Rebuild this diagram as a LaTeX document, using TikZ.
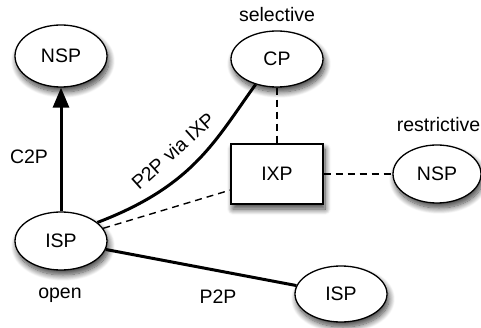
\documentclass[tikz,border=0pt]{standalone}
\usepackage{fontspec}
\setmainfont{Liberation Sans}
\usetikzlibrary{arrows.meta,shapes.geometric,shadows.blur}
\begin{document}
\begin{tikzpicture}[x=1pt,y=-1pt,
  font=\fontsize{19.5}{23}\selectfont,
  shade/.style={blur shadow={shadow xshift=2pt,shadow yshift=-5pt,shadow blur radius=6pt,shadow blur steps=12,shadow opacity=75}},
  as/.style={ellipse,draw,line width=1.3pt,fill=white,inner sep=0pt,minimum width=92pt,minimum height=58pt,shade},
  exch/.style={rectangle,draw,line width=1.3pt,fill=white,inner sep=0pt,minimum width=92pt,minimum height=60pt,shade},
  tag/.style={inner sep=0pt},
  link/.style={line width=3pt},
  soft/.style={line width=1.4pt,dash pattern=on 7pt off 5pt}]
\useasboundingbox (0,0) rectangle (481,328);

% autonomous systems and the exchange point
\node[as,minimum height=62pt] (nsp1) at (61,56) {NSP};
\node[as,minimum height=56pt] (cp) at (277,59) {CP};
\node[exch] (ixp) at (277,174) {IXP};
\node[as,minimum width=88pt] (nsp2) at (437,174) {NSP};
\node[as] (isp1) at (61,241) {ISP};
\node[as,minimum height=56pt] (isp2) at (341,294) {ISP};

% peering policies
\node[tag] (tsel) at (277,15) {selective};
\node[tag] (tres) at (438.5,125) {restrictive};
\node[tag] (topen) at (60,295) {open};

% relationships
\draw[soft] (cp) -- (ixp);
\draw[soft] (ixp) -- (nsp2);
\draw[soft] (isp1) -- (ixp.199);
\draw[link,-{Triangle[width=16pt,length=20pt]}] (isp1) -- (nsp1);
\draw[link] (isp1) -- (isp2);
\draw[link] (isp1.27) .. controls +(97,-37) and +(-40,55) .. (cp.230);

% relationship labels
\node[tag] (lc2p) at (29,157) {C2P};
\node[tag,rotate=42] (lvia) at (173,151) {P2P via IXP};
\node[tag] (lp2p) at (218,297) {P2P};
\end{tikzpicture}
\end{document}
